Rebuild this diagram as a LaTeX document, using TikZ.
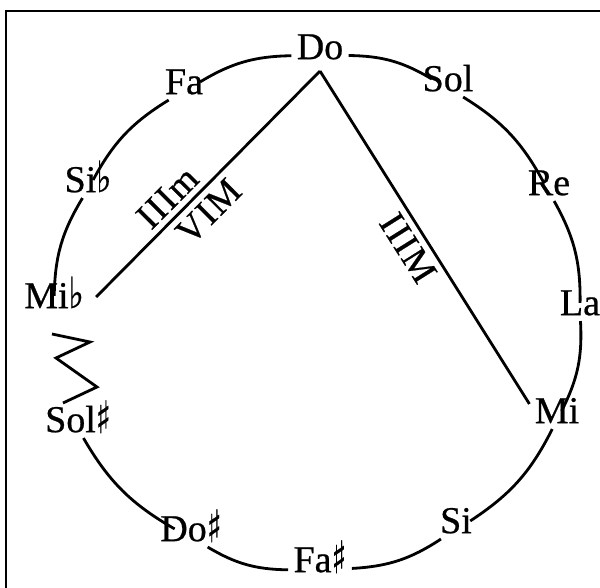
\documentclass[tikz,border=0pt]{standalone}
\usepackage{fontspec}
\setmainfont{Liberation Serif}[UprightFeatures={FakeBold=0.6}]
\newfontfamily\musicfont{DejaVu Serif}[FakeBold=0.6]
\newfontfamily\romanfont{Liberation Serif}[LetterSpace=4, FakeBold=0.6]
\newcommand{\sharpsign}{\raisebox{-1pt}{\scalebox{1.1}[1.6]{\musicfont\fontsize{28}{30}\selectfont ♯}}}
\newcommand{\flatsign}{\scalebox{1}[1.35]{\musicfont\fontsize{32}{30}\selectfont ♭}}
\tikzset{
  note/.style={inner sep=4pt, text height=0.68em, text depth=0.05em, font=\fontsize{38}{40}\selectfont},
  ring/.style={bend left=15},
  degree/.style={font=\romanfont\fontsize{37}{40}\selectfont, sloped, inner sep=6pt}
}

\begin{document}
\begin{tikzpicture}[x=1pt, y=-1pt, line width=2.8pt]
        \useasboundingbox (0,0) rectangle (600,588);
        % Frame
        \draw[line width=2.4pt] (600,11) -- (6,11) -- (6,588);

        % Nodes
        \node[note] (Do) at (320,56) {Do};
        \node[note] (Sol) at (448,88) {Sol};
        \node[note] (Re) at (549,192) {Re};
        \node[note] (La) at (580,312) {La};
        \node[note] (Mi) at (557,420) {Mi};
        \node[note] (Si) at (456,530) {Si};
        \node[note] (Fas) at (320,569) {Fa\sharpsign};
        \node[note] (Dos) at (191,538) {Do\sharpsign};
        \node[note] (Sols) at (78,429) {Sol\sharpsign};
        \node[note] (Mib) at (54,305) {Mi\flatsign};
        \node[note] (Sib) at (88,189) {Si\flatsign};
        \node[note] (Fa) at (184,91) {Fa};

        % Circle
        \foreach \a/\b in {Do/Sol, Sol/Re, Re/La, La/Mi, Mi/Si, Si/Fas, Fas/Dos, Dos/Sols, Mib/Sib, Sib/Fa, Fa/Do}
          \draw[ring] (\a) to (\b);

        % Zigzag between Sol# and Mib
        \draw (52,334) -- (90,342) -- (56,358) -- (97,387) -- (63,403);

        % Chords
        \coordinate (top) at ([yshift=-6pt]Do.south);
        \draw ([xshift=7pt, yshift=8pt]Mib.east) -- (top)
          node[degree, pos=0.38, above] {IIIm}
          node[degree, pos=0.44, below] {VIM};
        \draw (top) -- ([yshift=7pt]Mi.north west)
          node[degree, midway, below] {IIIM};
    \end{tikzpicture}
\end{document}
